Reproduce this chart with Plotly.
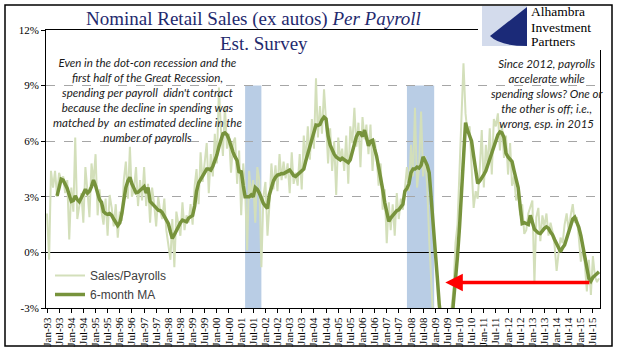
import plotly.graph_objects as go
import pandas as pd

# ---------------- data ----------------
dates = pd.date_range("1993-01-01", "2015-10-01", freq="MS")

sales_per_payroll = [
    # 1993
    2.1, -0.4, 4.4, 3.5, 4.4, 3.0, 4.3, 3.9, 4.1, 3.2, 3.9, 0.7,
    # 1994
    3.5, 2.2, 6.2, 1.8, 2.5, 3.2, 1.6, 4.6, 3.3, 1.9, 4.8, 3.8,
    # 1995
    5.3, 2.0, 3.4, 2.2, 1.5, 2.9, 0.9, 3.1, 2.4, 1.4, 2.6, 0.8,
    # 1996
    2.2, 1.7, 3.9, 4.9, 2.9, 5.7, 3.0, 3.4, 4.6, 2.5, 3.9, 2.8,
    # 1997
    4.6, 2.5, 3.7, 1.6, 3.5, 2.6, 1.4, 3.0, 2.2, 1.8, 2.9, 1.2,
    # 1998
    0.4, -0.4, 1.8, -0.8, 2.2, 1.6, 0.9, 2.7, 1.2, 2.0, 1.6, 2.6,
    # 1999
    1.5, 3.6, 4.5, 2.6, 5.4, 3.8, 4.9, 5.9, 3.2, 5.3, 4.1, 6.4,
    # 2000
    4.8, 8.9, 6.7, 5.2, 7.9, 5.6, 6.4, 4.3, 5.9, 6.2, 3.7, 5.5,
    # 2001
    2.0, 4.8, 3.4, 0.1, 4.4, 2.9, 3.9, 1.6, 4.6, 3.9, -0.8, 3.0,
    # 2002
    3.8, 0.9, 2.5, 4.8, 3.4, 4.7, 3.3, 5.3, 3.9, 4.9, 4.0, 4.8,
    # 2003
    3.2, 5.4, 3.7, 4.3, 3.6, 5.3, 3.4, 6.3, 4.9, 6.8, 5.0, 7.2,
    # 2004
    5.6, 9.4, 6.2, 7.9, 6.4, 8.8, 7.1, 4.8, 6.7, 4.4, 6.0, 3.1,
    # 2005
    6.2, 5.0, 5.6, 4.4, 6.3, 3.7, 6.8, 5.9, 7.8, 5.7, 7.0, 4.6,
    # 2006
    7.3, 6.1, 6.9, 5.3, 6.9, 4.4, 6.1, 5.2, 3.6, 4.8, 2.3, 3.4,
    # 2007
    0.5, 2.7, 1.2, 2.6, 0.9, 3.2, 1.8, 2.9, 2.3, 3.6, 4.6, 3.3,
    # 2008
    5.8, 4.1, 7.8, 3.5, 4.5, 7.6, 4.1, 5.2, 3.6, 0.7, -2.6, -4.5,
    # 2009
    -6.0, -7.0, -8.0, -7.5, -6.5, -5.0, -4.5, -3.5, -3.0, -2.0, 0.5, 1.5,
    # 2010
    4.5, 6.5, 10.2, 7.5, 6.4, 6.8, 4.8, 2.4, 3.3, 2.9, 4.5, 6.6,
    # 2011
    3.5, 5.8, 4.6, 6.7, 4.2, 7.2, 6.8, 7.5, 5.5, 6.9, 5.1, 6.3,
    # 2012
    4.2, 5.9, 3.6, 4.1, 2.8, 3.2, 2.0, 2.6, 1.0, 1.2, 2.1, 2.5,
    # 2013
    2.8, -1.7, 1.9, 2.4, 0.6, 2.0, 1.4, 2.1, 0.9, 1.6, 1.1, 0.4,
    # 2014
    -1.0, 0.0, 0.8, 0.5, 1.5, 2.1, 1.2, 2.0, 2.6, 1.6, 1.9, 0.8,
    # 2015
    -0.5, 0.2, -0.6, -2.1, -0.4, -2.3, -0.2, -1.3, -1.6, -1.4,
]

six_month_ma = [
    # 1993
    None, None, None, None, None, 3.05, 3.5, 3.95, 3.9, 3.7, 3.45, 3.1,
    # 1994
    2.75, 2.8, 3.05, 2.85, 2.73, 2.95, 3.2, 3.4, 3.2, 3.3, 3.55, 3.9,
    # 1995
    3.6, 3.1, 2.85, 2.7, 2.2, 2.1, 2.05, 2.1, 2.0, 1.8, 1.6, 1.45,
    # 1996
    1.6, 2.1, 2.8, 3.5, 3.85, 4.05, 3.7, 3.4, 3.22, 3.25, 3.35, 3.4,
    # 1997
    3.55, 3.2, 3.5, 2.75, 2.65, 2.55, 2.4, 2.28, 2.25, 2.15, 1.95, 1.75,
    # 1998
    1.55, 1.1, 0.75, 0.95, 1.2, 1.45, 1.6, 1.74, 1.7, 1.65, 1.85, 1.95,
    # 1999
    2.0, 2.5, 3.3, 3.75, 3.95, 4.15, 4.3, 4.5, 4.5, 4.44, 4.65, 4.9,
    # 2000
    5.25, 5.7, 6.1, 6.4, 6.45, 6.35, 6.1, 5.7, 5.4, 5.15, 4.95, 4.3,
    # 2001
    4.4, 3.6, 3.0, 3.0, 3.0, 3.1, 3.0, 3.5, 3.4, 3.2, 2.9, 2.65,
    # 2002
    2.5, 2.37, 3.1, 3.5, 3.85, 4.05, 4.17, 4.2, 4.26, 4.25, 4.3, 4.35,
    # 2003
    4.44, 4.3, 4.15, 4.1, 4.2, 4.27, 4.35, 4.5, 4.95, 5.35, 5.75, 6.15,
    # 2004
    6.5, 6.87, 6.85, 6.9, 7.15, 7.3, 7.2, 6.3, 5.8, 5.5, 5.3, 5.15,
    # 2005
    5.05, 4.99, 5.08, 5.0, 4.9, 4.85, 5.0, 5.4, 5.85, 6.25, 6.45, 6.45,
    # 2006
    6.25, 6.6, 6.2, 5.75, 6.0, 6.05, 5.6, 5.2, 4.6, 4.1, 3.4, 2.7,
    # 2007
    2.05, 1.67, 1.85, 2.0, 2.1, 2.25, 2.3, 2.45, 2.6, 3.3, 3.45, 3.7,
    # 2008
    4.3, 4.5, 4.5, 4.6, 4.55, 4.7, 5.15, 4.95, 4.7, 4.3, 3.0, 1.2,
    # 2009
    0.0, -1.4, -2.8, -4.2, -5.2, -5.6, -5.6, -5.0, -4.0, -2.7, -1.5, -0.2,
    # 2010
    1.4, 3.5, 5.4, 7.0, 6.6, 6.3, 6.0, 5.2, 4.3, 3.72, 3.85, 4.0,
    # 2011
    4.2, 4.4, 4.7, 5.0, 5.25, 5.6, 6.0, 6.35, 6.5, 6.45, 6.2, 5.35,
    # 2012
    5.15, 5.05, 4.9, 4.4, 3.9, 3.5, 2.5, 1.56, 1.6, 1.55, 1.5, 2.0,
    # 2013
    1.6, 1.25, 1.15, 1.05, 1.02, 1.2, 1.3, 1.38, 1.3, 1.1, 0.95, 0.7,
    # 2014
    0.45, 0.2, 0.04, 0.25, 0.4, 0.75, 1.1, 1.45, 1.8, 1.9, 1.65, 1.35,
    # 2015
    0.9, 0.35, -0.2, -0.8, -1.4, -1.55, -1.35, -1.25, -1.15, -1.05,
]

recessions = [("2001-03-01", "2001-11-01"), ("2007-11-01", "2008-12-15")]
recession_top = 9
arrow_from = ("2015-06-01", -1.62)
arrow_to = ("2009-06-01", -1.62)

y_ticks = [-3, 0, 3, 6, 9, 12]
y_labels = ["-3%", "0%", "3%", "6%", "9%", "12%"]

# ---------------- layout helpers ----------------
W, H = 629, 358
L, R, T, B = 46, 29, 30, 50
PW, PH = W - L - R, H - T - B


def px(x):
    return (x - L) / PW


def py(y):
    return (H - B - y) / PH


fig = go.Figure()

fig.add_trace(go.Scatter(
    x=dates, y=sales_per_payroll, mode="lines", name="Sales/Payrolls",
    line=dict(color="#D3DFBA", width=2), cliponaxis=True,
))
fig.add_trace(go.Scatter(
    x=dates, y=six_month_ma, mode="lines", name="6-month MA",
    line=dict(color="#77933C", width=3.5), cliponaxis=True,
))

shapes = []
for x0, x1 in recessions:
    shapes.append(dict(type="rect", xref="x", yref="y", x0=x0, x1=x1,
                       y0=-3, y1=recession_top, fillcolor="#B9CDE5",
                       line=dict(width=0), layer="below"))
# outer border
shapes.append(dict(type="rect", xref="paper", yref="paper",
                   x0=px(5), x1=px(612), y0=py(346), y1=py(5),
                   line=dict(color="black", width=1.5), layer="above"))
# logo background
shapes.append(dict(type="rect", xref="paper", yref="paper",
                   x0=px(478), x1=px(611), y0=py(50), y1=py(6),
                   fillcolor="white", line=dict(width=0), layer="above"))
shapes.append(dict(type="rect", xref="paper", yref="paper",
                   x0=px(482), x1=px(527), y0=py(46), y1=py(6),
                   fillcolor="#D3DBEC", line=dict(width=0), layer="above"))
shapes.append(dict(type="path", xref="paper", yref="paper",
                   path=(f"M {px(527)},{py(7)} L {px(490)},{py(36)} "
                         f"Q {px(500)},{py(46)} {px(527)},{py(46)} Z"),
                   fillcolor="#1B2A78", line=dict(width=0), layer="above"))

annotations = []
annotations.append(dict(
    xref="paper", yref="paper", x=px(253), y=py(19), xanchor="center", yanchor="middle",
    text="Nominal Retail Sales (ex autos) <i>Per Payroll</i>",
    showarrow=False, font=dict(family="Liberation Serif", size=19, color="#1F2A6E"),
))
annotations.append(dict(
    xref="paper", yref="paper", x=px(264), y=py(43), xanchor="center", yanchor="middle",
    text="Est. Survey",
    showarrow=False, font=dict(family="Liberation Serif", size=19, color="#1F2A6E"),
))
for i, word in enumerate(["Alhambra", "Investment", "Partners"]):
    annotations.append(dict(
        xref="paper", yref="paper", x=px(530), y=py(12 + 15 * i), xanchor="left",
        yanchor="middle", text=word, showarrow=False, borderpad=0,
        font=dict(family="Liberation Serif", size=13.5, color="black"),
    ))
annotations.append(dict(
    xref="paper", yref="paper", x=px(147), y=py(100), xanchor="center", yanchor="middle",
    text=("<i>Even in the dot-con recession and the<br>first half of the Great Recession,<br>"
          "spending per payroll  didn't contract<br>because the decline in spending was<br>"
          "matched by  an estimated decline in the<br>number of payrolls</i>"),
    showarrow=False, align="center",
    font=dict(family="Lato", size=11.5, color="#1a1a1a"),
))
annotations.append(dict(
    xref="paper", yref="paper", x=px(547), y=py(93), xanchor="center", yanchor="middle",
    text=("<i>Since 2012, payrolls<br>accelerate while<br>spending slows? One or<br>"
          "the other is off; i.e.,<br>wrong, esp. in 2015</i>"),
    showarrow=False, align="center",
    font=dict(family="Lato", size=11.5, color="#1a1a1a"),
))
annotations.append(dict(
    xref="x", yref="y", x=arrow_to[0], y=arrow_to[1],
    axref="x", ayref="y", ax=arrow_from[0], ay=arrow_from[1],
    showarrow=True, arrowhead=2, arrowsize=1, arrowwidth=3.5, arrowcolor="#FF0000",
    text="",
))

fig.update_layout(
    width=W, height=H,
    margin=dict(l=L, r=R, t=T, b=B),
    paper_bgcolor="white", plot_bgcolor="white",
    showlegend=True,
    legend=dict(x=px(50), y=py(261), xanchor="left", yanchor="top",
                bgcolor="rgba(0,0,0,0)", font=dict(family="Liberation Sans", size=12, color="#404040"),
                itemwidth=30, tracegroupgap=0),
    shapes=shapes, annotations=annotations,
)
fig.update_xaxes(
    type="date", range=["1992-12-16", "2015-10-16"],
    tick0="1993-01-01", dtick="M6", tickformat="%b-%y", tickangle=-90,
    showgrid=False, showline=True, linecolor="black", linewidth=1, mirror=True,
    ticks="outside", ticklen=4, tickcolor="black",
    tickfont=dict(family="Liberation Serif", size=11, color="black"),
)
fig.update_yaxes(
    range=[-3, 12], tickvals=y_ticks, ticktext=y_labels,
    showgrid=True, gridcolor="#A6A6A6", griddash="dash", gridwidth=1,
    zeroline=True, zerolinecolor="black", zerolinewidth=1.2,
    showline=True, linecolor="black", linewidth=1, mirror=True,
    ticks="outside", ticklen=4, tickcolor="black",
    tickfont=dict(family="Liberation Serif", size=11, color="black"),
)

fig.write_html("out.html", config={"displayModeBar": False},
               post_script="document.body.style.margin='0px';")
